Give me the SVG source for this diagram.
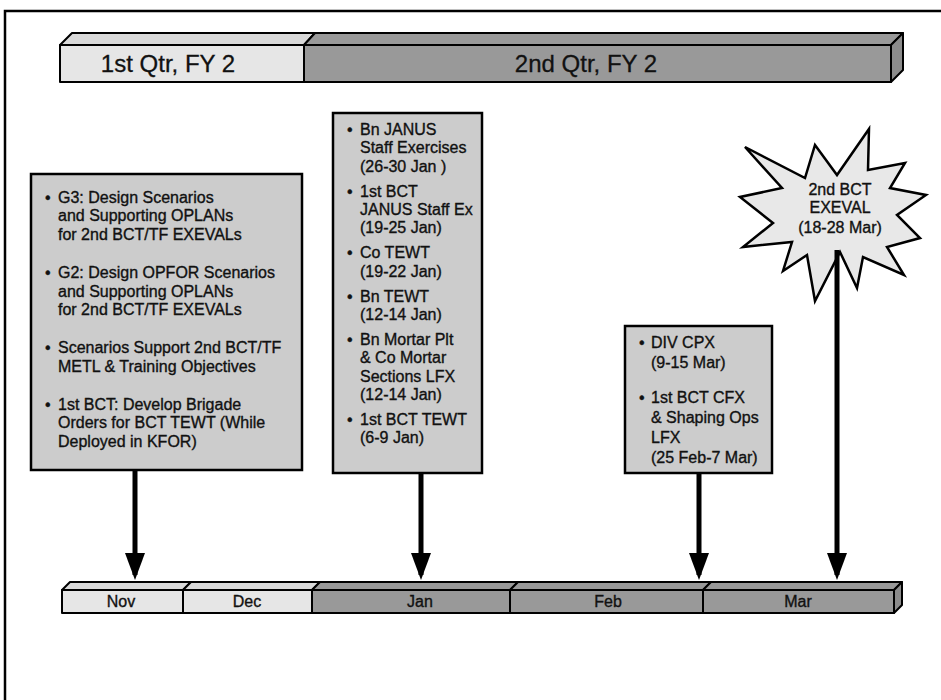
<svg xmlns="http://www.w3.org/2000/svg" width="941" height="700" viewBox="0 0 941 700">
<style>
.t{font-family:"Liberation Sans",Arial,Helvetica,sans-serif;font-size:16px;fill:#111;stroke:#111;stroke-width:0.35}
.c{text-anchor:middle}
.big{font-size:24px;stroke-width:0.3}
.box{fill:#cccccc;stroke:#000;stroke-width:2.5}
.lt{fill:#e6e6e6;stroke:#000;stroke-width:2;stroke-linejoin:round}
.lt2{fill:#d9d9d9;stroke:#000;stroke-width:2;stroke-linejoin:round}
.dk{fill:#999999;stroke:#000;stroke-width:2;stroke-linejoin:round}
.dk2{fill:#8c8c8c;stroke:#000;stroke-width:2;stroke-linejoin:round}
.arr{stroke:#000;stroke-width:5;fill:none;marker-end:url(#ah)}
</style>
<defs>
<marker id="ah" markerUnits="userSpaceOnUse" markerWidth="27" markerHeight="20" refX="22" refY="10" orient="auto">
<path d="M0,0 L27,10 L0,20 z" fill="#000"/>
</marker>
</defs>
<rect x="0" y="0" width="941" height="700" fill="#fff"/>
<rect x="5" y="11" width="960" height="720" fill="none" stroke="#000" stroke-width="2.5"/>

<g id="quarter-bar">
<polygon class="lt2" points="60,45 72,33 315,33 304,45"/>
<polygon class="dk" points="304,45 315,33 903,33 891,45"/>
<polygon class="dk2" points="891,45 903,33 903,70 891,82"/>
<rect class="lt" x="60" y="45" width="244" height="37"/>
<rect class="dk" x="304" y="45" width="587" height="37"/>
<text class="t big c" x="168" y="72">1st Qtr, FY 2</text>
<text class="t big c" x="586" y="72">2nd Qtr, FY 2</text>
</g>

<g id="box-planning">
<rect class="box" x="31" y="174" width="271" height="296"/>
<text class="t">
<tspan x="45" y="203">•</tspan><tspan x="58" y="203">G3: Design Scenarios</tspan>
<tspan x="58" y="221">and Supporting OPLANs</tspan>
<tspan x="58" y="240">for 2nd BCT/TF EXEVALs</tspan>
<tspan x="45" y="278">•</tspan><tspan x="58" y="278">G2: Design OPFOR Scenarios</tspan>
<tspan x="58" y="297">and Supporting OPLANs</tspan>
<tspan x="58" y="315">for 2nd BCT/TF EXEVALs</tspan>
<tspan x="45" y="353">•</tspan><tspan x="58" y="353">Scenarios Support 2nd BCT/TF</tspan>
<tspan x="58" y="372">METL &amp; Training Objectives</tspan>
<tspan x="45" y="410">•</tspan><tspan x="58" y="410">1st BCT: Develop Brigade</tspan>
<tspan x="58" y="428">Orders for BCT TEWT (While</tspan>
<tspan x="58" y="447">Deployed in KFOR)</tspan>
</text>
</g>

<g id="box-jan">
<rect class="box" x="333" y="113" width="149" height="360"/>
<text class="t">
<tspan x="347" y="135">•</tspan><tspan x="360" y="135">Bn JANUS</tspan>
<tspan x="360" y="153">Staff Exercises</tspan>
<tspan x="360" y="172">(26-30 Jan )</tspan>
<tspan x="347" y="197">•</tspan><tspan x="360" y="197">1st BCT</tspan>
<tspan x="360" y="215">JANUS Staff Ex</tspan>
<tspan x="360" y="233">(19-25 Jan)</tspan>
<tspan x="347" y="258">•</tspan><tspan x="360" y="258">Co TEWT</tspan>
<tspan x="360" y="277">(19-22 Jan)</tspan>
<tspan x="347" y="302">•</tspan><tspan x="360" y="302">Bn TEWT</tspan>
<tspan x="360" y="320">(12-14 Jan)</tspan>
<tspan x="347" y="345">•</tspan><tspan x="360" y="345">Bn Mortar Plt</tspan>
<tspan x="360" y="363">&amp; Co Mortar</tspan>
<tspan x="360" y="382">Sections LFX</tspan>
<tspan x="360" y="400">(12-14 Jan)</tspan>
<tspan x="347" y="425">•</tspan><tspan x="360" y="425">1st BCT TEWT</tspan>
<tspan x="360" y="443">(6-9 Jan)</tspan>
</text>
</g>

<g id="box-mar">
<rect class="box" x="625" y="326" width="147" height="147"/>
<text class="t">
<tspan x="639" y="348">•</tspan><tspan x="651" y="348">DIV CPX</tspan>
<tspan x="651" y="368">(9-15 Mar)</tspan>
<tspan x="639" y="403">•</tspan><tspan x="651" y="403">1st BCT CFX</tspan>
<tspan x="651" y="423">&amp; Shaping Ops</tspan>
<tspan x="651" y="443">LFX</tspan>
<tspan x="651" y="463">(25 Feb-7 Mar)</tspan>
</text>
</g>

<g id="star-exeval">
<polygon points="869,129 868,170 905,163 890,188 926,195 897,215 920,238 887,247 904,275 863,257 857,288 840,252 815,301 807,255 783,271 792,242 743,247 773,223 740,197 782,188 745,147 805,178 815,145 837,175" fill="#e8e8e8" stroke="#000" stroke-width="2.5" stroke-linejoin="miter"/>
<text class="t c" x="840" y="195">2nd BCT</text>
<text class="t c" x="840" y="213">EXEVAL</text>
<text class="t c" x="840" y="233">(18-28 Mar)</text>
</g>

<g id="connectors">
<line class="arr" x1="135" y1="470" x2="135" y2="575"/>
<line class="arr" x1="421" y1="473" x2="421" y2="575"/>
<line class="arr" x1="699" y1="473" x2="699" y2="575"/>
<line class="arr" x1="837" y1="250" x2="837" y2="575"/>
</g>

<g id="month-bar">
<polygon class="lt2" points="62,590 70,582 191,582 183,590"/>
<polygon class="lt2" points="183,590 191,582 320,582 312,590"/>
<polygon class="dk" points="312,590 320,582 518,582 510,590"/>
<polygon class="dk" points="510,590 518,582 711,582 703,590"/>
<polygon class="dk" points="703,590 711,582 902,582 894,590"/>
<polygon class="dk2" points="894,590 902,582 902,605 894,613"/>
<rect class="lt" x="62" y="590" width="121" height="23"/>
<rect class="lt" x="183" y="590" width="129" height="23"/>
<rect class="dk" x="312" y="590" width="198" height="23"/>
<rect class="dk" x="510" y="590" width="193" height="23"/>
<rect class="dk" x="703" y="590" width="191" height="23"/>
<text class="t c" x="121" y="607">Nov</text>
<text class="t c" x="247" y="607">Dec</text>
<text class="t c" x="420" y="607">Jan</text>
<text class="t c" x="608" y="607">Feb</text>
<text class="t c" x="798" y="607">Mar</text>
</g>
</svg>
